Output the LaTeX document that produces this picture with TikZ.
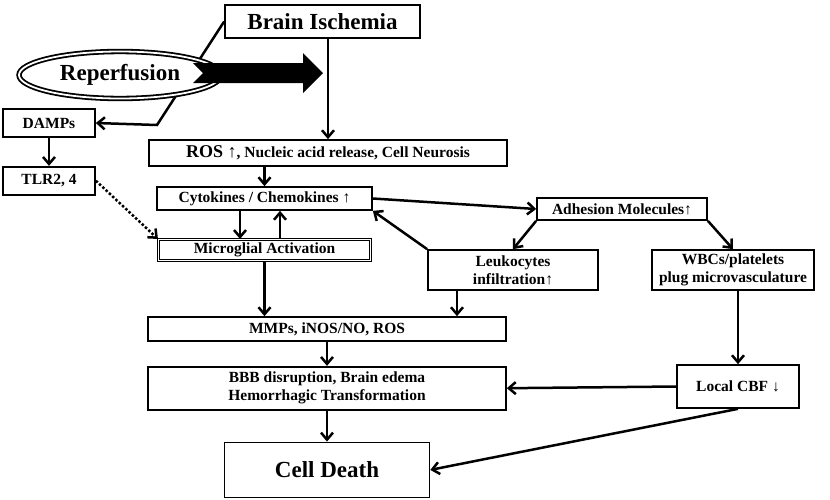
\documentclass[tikz,border=0pt]{standalone}
\usepackage{fontspec}
\setmainfont{Liberation Serif}
\usepackage{tikz}
\usetikzlibrary{positioning, calc, shapes.geometric, arrows.meta}

\begin{document}
\begin{tikzpicture}
		[x=1pt, y=-1pt,
		 blk/.style = {draw, line width=1.7pt, rectangle, fill=white, inner sep=1pt, align=center, font=\bfseries\fontsize{15.5}{18}\selectfont},
		 bigblk/.style = {blk, font=\bfseries\fontsize{23}{26}\selectfont},
		 dblk/.style = {blk, line width=1.1pt, double, double distance=1.6pt},
		 flow/.style = {line width=2.5pt, -{Straight Barb[length=7pt, width=12pt]}}]
		\useasboundingbox[fill=white] (0,0) rectangle (830,499);
		\node[bigblk, minimum width=195pt, minimum height=33pt] (isch) at (322.5,21.5) {Brain Ischemia};
		\node[blk, minimum width=358pt, minimum height=26pt] (ros) at (328,153) {{\fontsize{18}{20}\selectfont ROS ↑}, Nucleic acid release, Cell Neurosis};
		\node[blk, minimum width=215pt, minimum height=23pt] (cyto) at (264.5,198.5) {Cytokines / Chemokines ↑};
		\node[dblk, minimum width=212pt, minimum height=21pt] (micro) at (264.5,250) {Microglial Activation};
		\node[blk, minimum width=358pt, minimum height=24pt] (mmp) at (327,329) {MMPs, iNOS/NO, ROS};
		\node[blk, minimum width=358pt, minimum height=43pt, below=24pt of mmp] (bbb) {BBB disruption, Brain edema\\Hemorrhagic Transformation};
		\node[bigblk, minimum width=205pt, minimum height=55pt, below=31pt of bbb] (death) {Cell Death};
		\node[blk, minimum width=170pt, minimum height=22pt] (adh) at (622,209) {Adhesion Molecules↑};
		\node[blk, minimum width=170pt, minimum height=40pt] (leuk) at (513,270) {Leukocytes\\infiltration↑};
		\node[blk, minimum width=162pt, minimum height=40pt] (wbc) at (733,270) {WBCs/platelets\\plug microvasculature};
		\node[blk, minimum width=122pt, minimum height=43pt] (cbf) at (738,386.5) {Local CBF ↓};
		\node[blk, minimum width=92pt, minimum height=28pt] (damps) at (49,123) {DAMPs};
		\node[blk, minimum width=92pt, minimum height=28pt, below=28pt of damps] (tlr) {TLR2, 4};
		\coordinate (bend) at (157,125);

		\draw[flow] (isch.west) -- (bend) -- (damps.east);
		\node[ellipse, draw, fill=white, line width=1.8pt, double, double distance=1.8pt, minimum width=202pt, minimum height=47pt, inner sep=0pt, font=\bfseries\fontsize{23}{26}\selectfont] (repf) at (120,75) {Reperfusion};
		\fill (193,63) -- (303,63) -- (303,53) -- (323,73) -- (303,93) -- (303,83) -- (193,83) -- (203,73) -- cycle;

		\draw[flow] (isch.south -| ros.north) -- (ros.north);
		\draw[flow] (ros.south -| cyto.north) -- (cyto.north);
		\draw[flow] ([xshift=-24.5pt]cyto.south) -- ([xshift=-24.5pt]micro.north);
		\draw[flow] ([xshift=15.5pt]micro.north) -- ([xshift=15.5pt]cyto.south);
		\draw[flow] (micro.south) -- (micro.south |- mmp.north);
		\draw[flow] (cyto.east) -- (adh.west);
		\draw[flow] (adh.south west) -- (leuk.north);
		\draw[flow] (adh.south east) -- (wbc.north);
		\draw[flow] (leuk.north west) -- (cyto.south east);
		\draw[flow] ([xshift=-56pt]leuk.south) -- ([xshift=-56pt]leuk.south |- mmp.north);
		\draw[flow] (wbc.south -| cbf.north) -- (cbf.north);
		\draw[flow] (cbf.west) -- (bbb.east);
		\draw[flow] (cbf.south) -- (death.east);
		\draw[flow] (mmp) -- (bbb);
		\draw[flow] (bbb) -- (death);
		\draw[flow] (damps) -- (tlr);
		\draw[flow, dotted] (tlr.east) -- (micro.north west);
	\end{tikzpicture}
\end{document}
